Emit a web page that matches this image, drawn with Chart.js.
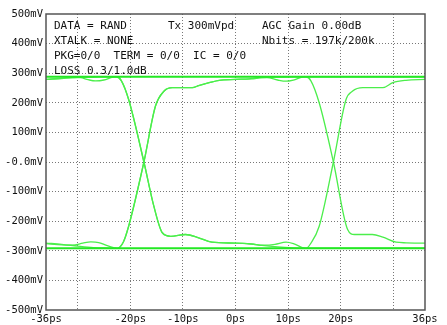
<!DOCTYPE html>
<html>
<head>
<meta charset="utf-8">
<script src="https://cdn.jsdelivr.net/npm/chart.js@4.4.0/dist/chart.umd.min.js"></script>
<style>
  html, body { margin: 0; padding: 0; background: #fff; }
  #wrap { width: 447px; height: 325px; }
</style>
</head>
<body>
<div id="wrap"><canvas id="eye-chart" width="447" height="325"></canvas></div>
<script>
// axis ticks
var xTicks = [-36, -30, -20, -10, 0, 10, 20, 30, 36]
var yTicks = [-500, -400, -300, -200, -100, 0, 100, 200, 300, 400, 500]
var yTickLabels = ['-500mV', '-400mV', '-300mV', '-200mV', '-100mV', '-0.0mV', '100mV', '200mV', '300mV', '400mV', '500mV']

// eye traces (time in ps, level in mV)
var t1Ps = [-36, -33, -31, -29.5, -28, -26.6, -25, -23.3, -22.6, -21.7, -20.3, -17.4, -15.5, -13.9, -12.3, -9.5, -7, -4.5, 0, 3, 5.5, 7.5, 9.6, 11, 12.7, 13.4, 14.3, 15.9, 18.6, 21, 22.2, 24.2, 28, 29.9, 32.4, 36]
var t1mV = [279, 282, 285, 285, 278, 274, 277, 287, 288, 275, 211, 0, -150, -239, -251, -245, -256, -271, -274, -277, -281, -278, -271, -276, -289, -292, -275, -217, 0, 211, 239, 251, 251, 268, 276, 279]

var t2Ps = [-36, -33, -31, -29, -27.5, -26, -24.5, -23, -22.4, -21.3, -20.3, -17.4, -15.2, -13.6, -12, -8.2, -7, -5, -3.1, 0, 2.5, 4.5, 6, 8, 9.6, 11, 12.7, 13.4, 14.3, 15.9, 18.6, 21.3, 22.6, 26, 28, 30.5, 32.4, 36]
var t2mV = [-276, -280, -281, -274, -270, -272, -282, -290, -292, -270, -217, 0, 189, 239, 251, 251, 258, 268, 276, 279, 281, 285, 285, 277, 273, 277, 287, 288, 275, 200, 0, -228, -245, -245, -254, -271, -273, -274]

var t3Ps = [-36, -33, -30, -27, -24, -22.6, -21.7, -20.3, -17.4, -15.5, -13.9, -12.3, -9.5, -7, -4.5, 0, 3, 5, 8, 11, 13, 36]
var t3mV = [279, 283, 286, 287, 288, 288, 275, 211, 0, -150, -239, -251, -245, -256, -271, -274, -277, -282, -287, -290, -291, -291]

var t4Ps = [-36, -33, -30, -27, -24, -22.6, -21.3, -20.3, -17.4, -15.2, -13.6, -12, -8.2, -7, -5, -3.1, 0, 3, 5, 8, 11, 13, 36]
var t4mV = [-274, -278, -284, -289, -291, -292, -270, -217, 0, 189, 239, 251, 251, 258, 268, 276, 279, 281, 285, 287, 288, 288, 288]

// settled one / zero levels
var levelPs = [-36, 36]
var highLevel = 288
var lowLevel = -291

// info text block
var infoLines = [
    ['DATA = RAND', 'Tx 300mVpd', 'AGC Gain 0.00dB'],
    ['XTALK = NONE', '', 'Nbits = 197k/200k'],
    ['PKG=0/0  TERM = 0/0  IC = 0/0', '', ''],
    ['LOSS 0.3/1.0dB', '', '']
]

var traceColor = 'rgb(75,238,75)'
var levelColor = 'rgb(35,232,35)'
var monoFont = "'DejaVu Sans Mono', 'Liberation Mono', monospace"

function toPoints(xs, ys) {
    return xs.map((x, i) => ({ x: x, y: ys[i] }))
}

function trace(xs, ys) {
    return {
        data: toPoints(xs, ys),
        borderColor: traceColor,
        borderWidth: 1.3,
        pointRadius: 0,
        showLine: true,
        cubicInterpolationMode: 'monotone'
    }
}

function level(v) {
    return {
        data: toPoints(levelPs, levelPs.map(() => v)),
        borderColor: levelColor,
        borderWidth: 2,
        pointRadius: 0,
        showLine: true
    }
}

var frameAndText = {
    id: 'frameAndText',
    afterDraw(chart) {
        var c = chart.ctx
        var a = chart.chartArea
        c.save()
        c.strokeStyle = '#555'
        c.lineWidth = 1.5
        c.strokeRect(a.left, a.top, a.right - a.left, a.bottom - a.top)
        c.fillStyle = '#111'
        c.font = '11px ' + monoFont
        c.textBaseline = 'alphabetic'
        var cols = [54, 168, 262]
        var rows = [28.5, 43.5, 58.5, 74]
        infoLines.forEach((line, r) => {
            line.forEach((txt, k) => {
                if (txt) c.fillText(txt, cols[k], rows[r])
            })
        })
        c.restore()
    }
}

var ctx = document.getElementById('eye-chart').getContext('2d')

var eyeChart = new Chart(ctx, {
    type: 'scatter',
    data: {
        datasets: [
            level(highLevel),
            level(lowLevel),
            trace(t1Ps, t1mV),
            trace(t2Ps, t2mV),
            trace(t3Ps, t3mV),
            trace(t4Ps, t4mV)
        ]
    },
    options: {
        responsive: false,
        animation: false,
        layout: { padding: { top: 14, right: 22, left: 0, bottom: 0 } },
        plugins: { legend: { display: false }, tooltip: { enabled: false } },
        scales: {
            x: {
                type: 'linear',
                min: -36,
                max: 36,
                afterBuildTicks: (s) => { s.ticks = xTicks.map((v) => ({ value: v })) },
                afterFit: (s) => { s.height = 15 },
                ticks: {
                    autoSkip: false,
                    maxRotation: 0,
                    padding: 3,
                    color: '#111',
                    font: { family: monoFont, size: 10.5 },
                    callback: (v) => (v === 30 || v === -30) ? '' : v + 'ps'
                },
                grid: {
                    drawTicks: false,
                    color: (c) => (Math.abs(c.tick.value) === 36) ? 'rgba(0,0,0,0)' : '#777',
                    lineWidth: 1
                },
                border: { display: false, dash: [1, 2] }
            },
            y: {
                type: 'linear',
                min: -500,
                max: 500,
                afterBuildTicks: (s) => { s.ticks = yTicks.map((v) => ({ value: v })) },
                afterFit: (s) => { s.width = 46 },
                ticks: {
                    autoSkip: false,
                    padding: 3,
                    color: '#111',
                    font: { family: monoFont, size: 10.5 },
                    callback: (v) => yTickLabels[yTicks.indexOf(v)]
                },
                grid: {
                    drawTicks: false,
                    color: (c) => (Math.abs(c.tick.value) === 500) ? 'rgba(0,0,0,0)' : '#777',
                    lineWidth: 1
                },
                border: { display: false, dash: [1, 2] }
            }
        }
    },
    plugins: [frameAndText]
})
</script>
</body>
</html>
